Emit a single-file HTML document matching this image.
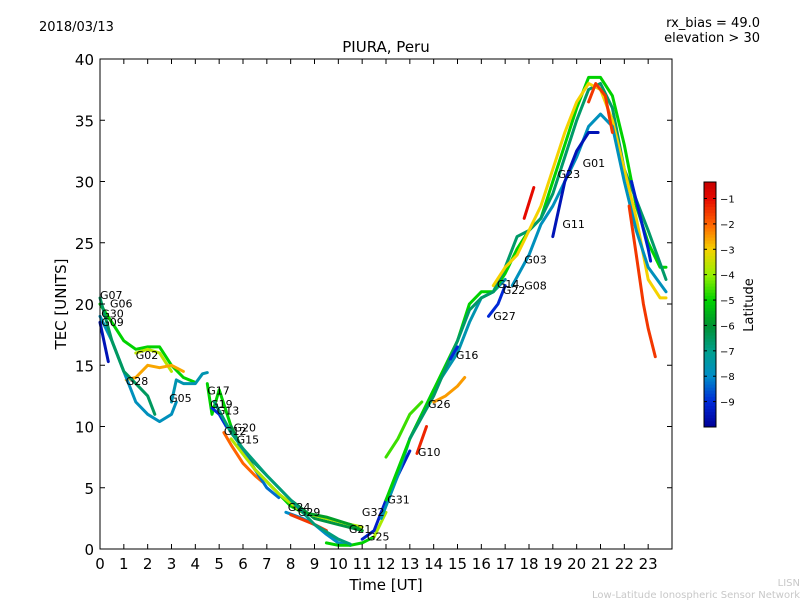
<!DOCTYPE html>
<html><head><meta charset="utf-8"><style>
body{margin:0;background:#fff}
svg text{font-family:"DejaVu Sans","Liberation Sans",sans-serif}
</style></head><body>
<svg id="c" width="800" height="600" xmlns="http://www.w3.org/2000/svg">
<rect width="800" height="600" fill="#fff"/>
<text x="39" y="31" font-size="13">2018/03/13</text>
<text x="760" y="27" font-size="13" text-anchor="end">rx_bias = 49.0</text>
<text x="760" y="42" font-size="13" text-anchor="end">elevation &gt; 30</text>
<text x="386" y="52" font-size="15" text-anchor="middle">PIURA, Peru</text>
<text x="386" y="590" font-size="15" text-anchor="middle">Time [UT]</text>
<text x="66" y="304" font-size="15" text-anchor="middle" transform="rotate(-90 66 304)">TEC [UNITS]</text>
<text x="753" y="305" font-size="13" text-anchor="middle" transform="rotate(-90 753 305)">Latitude</text>
<text x="800" y="586" font-size="10" fill="#c8c8c8" text-anchor="end">LISN</text>
<text x="800" y="598" font-size="10" fill="#c8c8c8" text-anchor="end">Low-Latitude Ionospheric Sensor Network</text>
<g id="plot"></g>
</svg>
<script>
const xTicks=[0,1,2,3,4,5,6,7,8,9,10,11,12,13,14,15,16,17,18,19,20,21,22,23];
const yTicks=[0,5,10,15,20,25,30,35,40];
const cbTicks=[-1,-2,-3,-4,-5,-6,-7,-8,-9];
const trackT=[
[0,0.5,1,1.5,2,2.5,3,3.5,4],
[1.5,2,2.5,3],
[1.1,1.5,2,2.5,3,3.5],
[0,0.5,1,1.5,2,2.5,3,3.2],
[0,0.35],
[0,0.5,1,1.5,2,2.3],
[3,3.2,3.5,4,4.3,4.5],
[4.5,4.7,5,5.5,6,6.5,7,7.5,8,8.5],
[4.7,5,5.3],
[5.2,5.5,6,6.5,6.8],
[5.5,6,7,8,9,10,11],
[5.8,6.5,7,7.5],
[5.5,6.5,7.5,8.5,9.5,10.5,11],
[7.8,8.5,9,9.5,10,10.5],
[9.5,10,10.5,11,11.5],
[11.5,12],
[8,9,9.5],
[8.5,9.5,10.5,11],
[11,11.5,12,12.5,13],
[11.8,12.5,13,13.5,14,14.5,15,15.5,16,16.5,17],
[13.3,13.7],
[12,12.5,13,13.5],
[12,13,14,15,15.5,16,16.5,17,17.5,18,18.5,19,19.5,20,20.5,21,21.5,22,22.5,23,23.5,23.75],
[14,14.5,15,15.3],
[13,14,15,15.5,16,16.5,17,17.5,18,18.5,19,19.5,20,20.5,21,21.5,22,22.5,23,23.75],
[16.5,17,17.5,18,18.5,19,19.5,20,20.5,21,21.5,22,22.5,23,23.5,23.75],
[17.8,18.2],
[17.3,18,18.5,19,19.5,20,20.5,21,21.5,22,22.5,23,23.75],
[19,19.5,20,20.5,20.9],
[16.3,16.7,17],
[22.2,22.5,22.8,23,23.3],
[22.3,23,23.1],
[14.7,15],
[20.5,20.8,21.2,21.5],
[4.8,5.5,6,7,8,9,10,10.5]
];
const trackV=[
[20,18.5,17,16.3,16.5,16.5,15,14,13.6],
[16,16.3,16,14.5],
[13.8,14,15,14.8,15,14.5],
[19,17,14.5,12,11,10.4,11,12],
[18.5,15.3],
[20.5,17,14.5,13.5,12.5,11],
[12,13.8,13.5,13.5,14.3,14.4],
[13.5,11,13,10,8,6.5,5.5,4.5,3.5,3],
[11.5,11,10],
[9.5,8.5,7,6,5.5],
[10,8,6,4,2.5,2,1.5],
[8.5,6.5,5,4.2],
[9,6.5,4.5,3,2.5,2,1.8],
[3,2.5,2,1.2,0.5,0.3],
[0.5,0.3,0.3,0.5,1],
[1,3],
[2.8,2,1.5],
[3,2.6,2,1.5],
[0.8,1.5,4,6,8],
[2.5,6,9,11,13,14.5,16,18.5,20.5,21,22],
[7.8,10],
[7.5,9,11,12],
[4,9,13,17,20,21,21,22.5,24.5,26,27,30,33,36,38.5,38.5,37,33,28,25,23,23],
[12,12.5,13.3,14],
[9,12.5,17,19.5,20.5,21,23,25.5,26,27,29,32,35,37.5,38,36,31,28.5,26,22],
[21.5,23,24,26,28,31,34,36.5,38,37.5,35,31,27,22,20.5,20.5],
[27,29.5],
[21.5,24,26.5,28,30,32,34.5,35.5,34.5,30,26,23,21],
[25.5,30,32.5,34,34],
[19,20,21.5],
[28,24,20,18,15.7],
[30,24.5,23.5],
[15.5,16.5],
[36.5,38,37,34],
[12,9.5,8.2,6,4,2,0.8,0.4]
];
const trackLat=[-5,-3.6,-2.6,-7.8,-9.5,-6.5,-7.6,-5,-9,-2,-6.2,-8.3,-3.7,-8,-5,-3.8,-1.5,-5.8,-9.2,-7.6,-1.3,-4.6,-5,-2.5,-6.6,-3,-1,-7.8,-9.5,-9,-1.5,-9.2,-9,-1.5,-6.8];
const satLabels=["G07","G06","G30","G09","G02","G28","G05","G17","G19","G13","G20","G12","G15","G24","G29","G32","G21","G25","G31","G10","G26","G16","G27","G14","G22","G08","G03","G11","G23","G01"];
const labelT=[0,0.42,0.05,0.05,1.5,1.08,2.9,4.5,4.62,4.9,5.6,5.2,5.73,7.88,8.3,10.99,10.44,11.2,12.05,13.34,13.76,14.93,16.5,16.65,16.9,17.8,17.8,19.4,19.2,20.25];
const labelV=[20.4,19.7,18.9,18.2,15.5,13.4,12.0,12.6,11.5,11.0,9.6,9.3,8.6,3.1,2.7,2.7,1.3,0.7,3.7,7.6,11.5,15.5,18.7,21.3,20.8,21.2,23.3,26.2,30.3,31.2];

const NS="http://www.w3.org/2000/svg";
const X0=100,X1=672,Y0=549,Y1=59,TMAX=24,VMAX=40;
function xs(t){return X0+(X1-X0)*t/TMAX;}
function ys(v){return Y0-(Y0-Y1)*v/VMAX;}
const CB_TOP=182,CB_BOT=427,LMIN=-10,LMAX=-0.35;
function cbY(l){return CB_BOT-(CB_BOT-CB_TOP)*(l-LMIN)/(LMAX-LMIN);}
const CS=[[-10,[0,0,150]],[-9,[0,40,215]],[-8,[0,140,200]],[-7,[0,160,140]],[-6,[0,145,50]],[-5,[0,210,0]],[-4,[150,240,0]],[-3,[245,210,0]],[-2,[255,100,0]],[-1,[230,10,0]],[-0.35,[200,0,0]]];
function jet(l){
 if(l<=CS[0][0])return 'rgb('+CS[0][1]+')';
 for(let k=1;k<CS.length;k++){if(l<=CS[k][0]){const f=(l-CS[k-1][0])/(CS[k][0]-CS[k-1][0]);
  const c=CS[k-1][1].map((a,i)=>Math.round(a+(CS[k][1][i]-a)*f));return `rgb(${c})`;}}
 return 'rgb('+CS[CS.length-1][1]+')';}
const g=document.getElementById('plot');
function mk(tag,attrs){const e=document.createElementNS(NS,tag);for(const k in attrs)e.setAttribute(k,attrs[k]);return e;}

trackT.forEach((ts,i)=>{
 const pts=ts.map((t,j)=>xs(t).toFixed(1)+','+ys(trackV[i][j]).toFixed(1)).join(' ');
 const p=mk('polyline',{points:pts,fill:'none',stroke:jet(trackLat[i]),'stroke-width':3,'stroke-linejoin':'round','stroke-linecap':'round'});
 
 
 g.appendChild(p);
});
satLabels.forEach((s,i)=>{
 const t=mk('text',{x:xs(labelT[i]),y:ys(labelV[i]),'font-size':11});
 t.textContent=s;
 
 
 g.appendChild(t);
});
const fr=mk('rect',{x:X0,y:Y1,width:X1-X0,height:Y0-Y1,fill:'none',stroke:'#000','stroke-width':1});


g.appendChild(fr);
xTicks.forEach(t=>{
 const x=xs(t);
 g.appendChild(mk('line',{x1:x,y1:Y0,x2:x,y2:Y0-5,stroke:'#000'}));
 g.appendChild(mk('line',{x1:x,y1:Y1,x2:x,y2:Y1+5,stroke:'#000'}));
 const tx=mk('text',{x:x,y:Y0+20,'font-size':15,'text-anchor':'middle'});
 tx.textContent=t;
 
 
 g.appendChild(tx);
});
yTicks.forEach(v=>{
 const y=ys(v);
 g.appendChild(mk('line',{x1:X0,y1:y,x2:X0+5,y2:y,stroke:'#000'}));
 g.appendChild(mk('line',{x1:X1,y1:y,x2:X1-5,y2:y,stroke:'#000'}));
 const tx=mk('text',{x:X0-6,y:y+6,'font-size':15,'text-anchor':'end'});
 tx.textContent=v;
 
 
 g.appendChild(tx);
});
const N=80;
for(let k=0;k<N;k++){
 const l0=LMIN+(LMAX-LMIN)*k/N,l1=LMIN+(LMAX-LMIN)*(k+1)/N;
 g.appendChild(mk('rect',{x:704,y:cbY(l1),width:12,height:cbY(l0)-cbY(l1)+0.5,fill:jet((l0+l1)/2)}));
}
const cb=mk('rect',{x:704,y:CB_TOP,width:12,height:CB_BOT-CB_TOP,fill:'none',stroke:'#000'});


g.appendChild(cb);
cbTicks.forEach(l=>{
 const y=cbY(l);
 g.appendChild(mk('line',{x1:704,y1:y,x2:707,y2:y,stroke:'#000'}));
 g.appendChild(mk('line',{x1:716,y1:y,x2:713,y2:y,stroke:'#000'}));
 const tx=mk('text',{x:720,y:y+4,'font-size':10});
 tx.textContent='\u2212'+(-l);
 
 
 g.appendChild(tx);
});
</script>
</body></html>
